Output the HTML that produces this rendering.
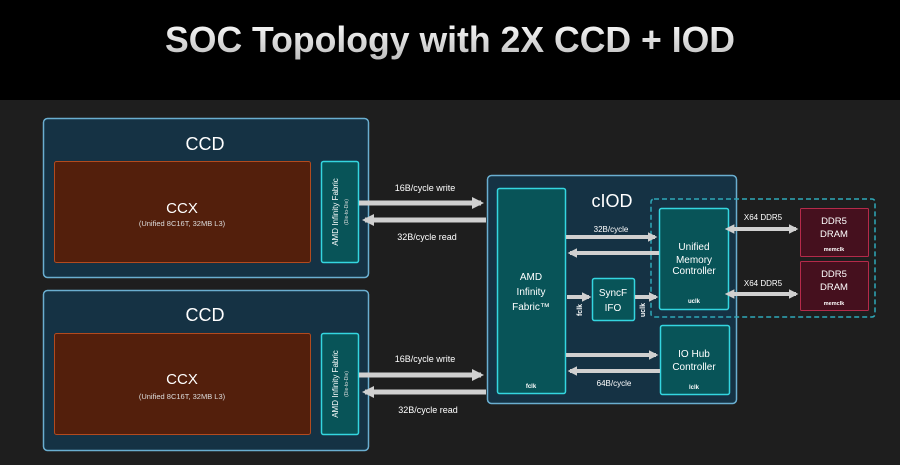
<!DOCTYPE html>
<html><head><meta charset="utf-8"><style>
html,body{margin:0;padding:0;background:#000;}
svg{display:block;font-family:"Liberation Sans",sans-serif;}
</style></head><body>
<svg width="900" height="465" viewBox="0 0 900 465" xmlns="http://www.w3.org/2000/svg">
<defs>
<linearGradient id="tg" x1="0" y1="0" x2="0" y2="1"><stop offset="0" stop-color="#fff"/><stop offset="1" stop-color="#bdbdbd"/></linearGradient>
<marker id="ah" markerWidth="2.4" markerHeight="2.4" refX="1.8" refY="1.2" orient="auto" markerUnits="strokeWidth"><path d="M0,0 L2.4,1.2 L0,2.4 z" fill="#d0d0d0"/></marker>
<marker id="ahs" markerWidth="2.4" markerHeight="2.4" refX="0.6" refY="1.2" orient="auto-start-reverse" markerUnits="strokeWidth"><path d="M0,0 L2.4,1.2 L0,2.4 z" fill="#d0d0d0"/></marker>
</defs>
<rect width="900" height="100" fill="#000"/>
<rect y="100" width="900" height="365" fill="#1e1e1e"/>
<text x="450" y="52" text-anchor="middle" font-size="36" font-weight="bold" fill="url(#tg)" textLength="570" lengthAdjust="spacingAndGlyphs">SOC Topology with 2X CCD + IOD</text>

<!-- CCD 1 -->
<rect x="43.5" y="118.5" width="325" height="159" rx="4" fill="#153244" stroke="#6aaed0" stroke-width="1.5"/>
<text x="205" y="150" text-anchor="middle" font-size="18" fill="#fff">CCD</text>
<rect x="54.5" y="161.5" width="256" height="101" rx="2" fill="#531f0c" stroke="#b34a1e" stroke-width="1"/>
<text x="182" y="213" text-anchor="middle" font-size="15" fill="#fff">CCX</text>
<text x="182" y="226" text-anchor="middle" font-size="7.5" fill="#ddd">(Unified 8C16T, 32MB L3)</text>
<rect x="321.5" y="161.5" width="37" height="101" rx="2" fill="#085458" stroke="#34d6e0" stroke-width="1.5"/>
<text transform="translate(338,212) rotate(-90)" text-anchor="middle" font-size="8" fill="#fff">AMD Infinity Fabric</text>
<text transform="translate(348,212) rotate(-90)" text-anchor="middle" font-size="5" fill="#ddd">(Die-to-Die)</text>

<!-- CCD 2 -->
<rect x="43.5" y="290.5" width="325" height="160" rx="4" fill="#153244" stroke="#6aaed0" stroke-width="1.5"/>
<text x="205" y="321" text-anchor="middle" font-size="18" fill="#fff">CCD</text>
<rect x="54.5" y="333.5" width="256" height="101" rx="2" fill="#531f0c" stroke="#b34a1e" stroke-width="1"/>
<text x="182" y="384" text-anchor="middle" font-size="15" fill="#fff">CCX</text>
<text x="182" y="399" text-anchor="middle" font-size="7.5" fill="#ddd">(Unified 8C16T, 32MB L3)</text>
<rect x="321.5" y="333.5" width="37" height="101" rx="2" fill="#085458" stroke="#34d6e0" stroke-width="1.5"/>
<text transform="translate(338,384) rotate(-90)" text-anchor="middle" font-size="8" fill="#fff">AMD Infinity Fabric</text>
<text transform="translate(348,384) rotate(-90)" text-anchor="middle" font-size="5" fill="#ddd">(Die-to-Die)</text>

<!-- CCD-IOD links -->
<g stroke="#d0d0d0" stroke-width="5" fill="none">
<line x1="359" y1="203" x2="481" y2="203" marker-end="url(#ah)"/>
<line x1="486" y1="220" x2="365" y2="220" marker-end="url(#ah)"/>
<line x1="359" y1="375" x2="481" y2="375" marker-end="url(#ah)"/>
<line x1="486" y1="392" x2="365" y2="392" marker-end="url(#ah)"/>
</g>
<g font-size="9" fill="#fff" text-anchor="middle">
<text x="425" y="191">16B/cycle write</text>
<text x="427" y="240">32B/cycle read</text>
<text x="425" y="362">16B/cycle write</text>
<text x="428" y="413">32B/cycle read</text>
</g>

<!-- cIOD -->
<rect x="487.5" y="175.5" width="249" height="228" rx="4" fill="#153244" stroke="#6aaed0" stroke-width="1.5"/>
<text x="612" y="207" text-anchor="middle" font-size="18" fill="#fff">cIOD</text>
<rect x="651" y="199" width="224" height="118" rx="3" fill="none" stroke="#2fa8b8" stroke-width="1.5" stroke-dasharray="5,3"/>
<rect x="497.5" y="188.5" width="68" height="205" rx="2" fill="#085458" stroke="#34d6e0" stroke-width="1.5"/>
<g font-size="10" fill="#fff" text-anchor="middle">
<text x="531" y="280">AMD</text>
<text x="531" y="295">Infinity</text>
<text x="531" y="310">Fabric™</text>
</g>
<text x="531" y="388" text-anchor="middle" font-size="6" font-weight="bold" fill="#fff">fclk</text>

<rect x="659.5" y="208.5" width="69" height="101" rx="2" fill="#085458" stroke="#34d6e0" stroke-width="1.5"/>
<g font-size="10" fill="#fff" text-anchor="middle">
<text x="694" y="250">Unified</text>
<text x="694" y="263">Memory</text>
<text x="694" y="274">Controller</text>
</g>
<text x="694" y="303" text-anchor="middle" font-size="6" font-weight="bold" fill="#fff">uclk</text>

<rect x="592.5" y="278.5" width="42" height="42" rx="2" fill="#085458" stroke="#34d6e0" stroke-width="1.5"/>
<text x="613" y="296" text-anchor="middle" font-size="10" fill="#fff">SyncF</text>
<text x="613" y="311" text-anchor="middle" font-size="10" fill="#fff">IFO</text>
<text transform="translate(582,310) rotate(-90)" text-anchor="middle" font-size="7" font-weight="bold" fill="#fff">fclk</text>
<text transform="translate(645,310) rotate(-90)" text-anchor="middle" font-size="7" font-weight="bold" fill="#fff">uclk</text>

<rect x="660.5" y="325.5" width="69" height="69" rx="2" fill="#085458" stroke="#34d6e0" stroke-width="1.5"/>
<text x="694" y="357" text-anchor="middle" font-size="10" fill="#fff">IO Hub</text>
<text x="694" y="370" text-anchor="middle" font-size="10" fill="#fff">Controller</text>
<text x="694" y="389" text-anchor="middle" font-size="6" font-weight="bold" fill="#fff">lclk</text>

<rect x="800.5" y="208.5" width="68" height="48" rx="1" fill="#45101e" stroke="#b52a4a" stroke-width="1"/>
<text x="834" y="224" text-anchor="middle" font-size="9.5" fill="#fff">DDR5</text>
<text x="834" y="237" text-anchor="middle" font-size="9.5" fill="#fff">DRAM</text>
<text x="834" y="251" text-anchor="middle" font-size="5.5" font-weight="bold" fill="#fff">memclk</text>
<rect x="800.5" y="261.5" width="68" height="49" rx="1" fill="#45101e" stroke="#b52a4a" stroke-width="1"/>
<text x="834" y="277" text-anchor="middle" font-size="9.5" fill="#fff">DDR5</text>
<text x="834" y="290" text-anchor="middle" font-size="9.5" fill="#fff">DRAM</text>
<text x="834" y="305" text-anchor="middle" font-size="5.5" font-weight="bold" fill="#fff">memclk</text>

<g stroke="#d0d0d0" stroke-width="4" fill="none">
<line x1="566" y1="237" x2="655" y2="237" marker-end="url(#ah)"/>
<line x1="659" y1="253" x2="570" y2="253" marker-end="url(#ah)"/>
<line x1="567" y1="297" x2="589" y2="297" marker-end="url(#ah)"/>
<line x1="635" y1="297" x2="656" y2="297" marker-end="url(#ah)"/>
<line x1="566" y1="355" x2="656" y2="355" marker-end="url(#ah)"/>
<line x1="660" y1="371" x2="570" y2="371" marker-end="url(#ah)"/>
<line x1="732" y1="229" x2="796" y2="229" marker-start="url(#ahs)" marker-end="url(#ah)"/>
<line x1="732" y1="294" x2="796" y2="294" marker-start="url(#ahs)" marker-end="url(#ah)"/>
</g>
<g font-size="8" fill="#fff" text-anchor="middle">
<text x="611" y="232">32B/cycle</text>
<text x="614" y="386">64B/cycle</text>
<text x="763" y="220">X64 DDR5</text>
<text x="763" y="286">X64 DDR5</text>
</g>
</svg>
</body></html>
